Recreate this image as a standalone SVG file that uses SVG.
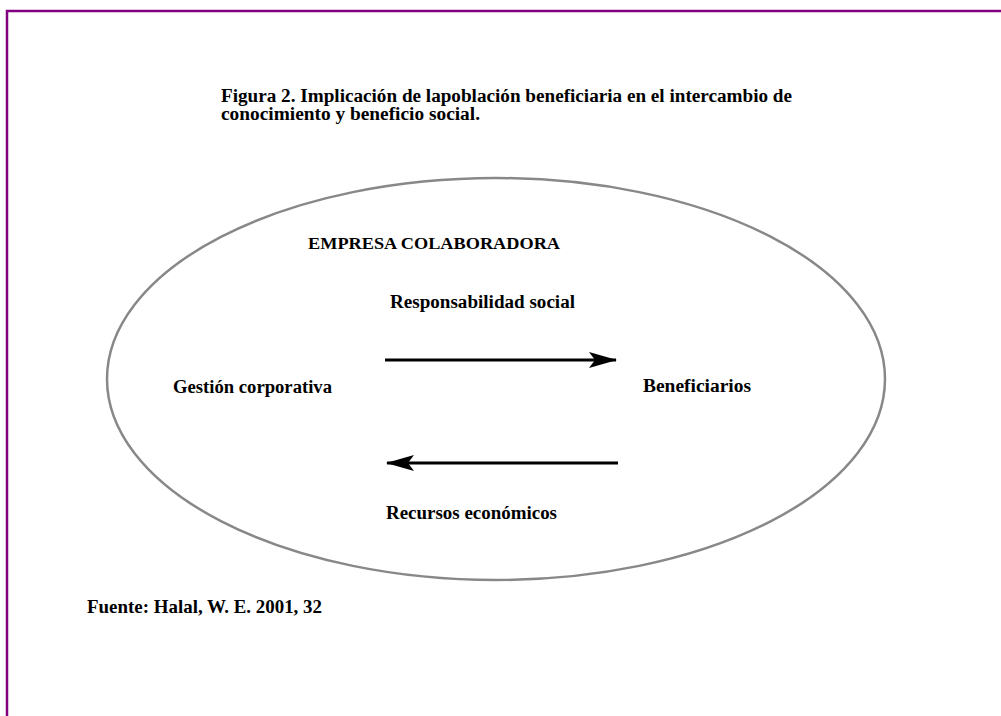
<svg xmlns="http://www.w3.org/2000/svg" width="1001" height="716" viewBox="0 0 1001 716">
<style>
.t{font-family:"Liberation Serif","Times New Roman",serif;font-weight:bold;font-size:18px;fill:#000}
.s{font-size:17px}
.f{font-size:19px}
.arr{stroke:#000;stroke-width:3;fill:none}
</style>
<defs>
<marker id="ah" viewBox="0 0 28 16" refX="27" refY="8" markerWidth="28" markerHeight="16" markerUnits="userSpaceOnUse" orient="auto">
<path d="M0,0 L28,8 L0,16 L6,8 Z" fill="#000"/>
</marker>
</defs>
<rect width="1001" height="716" fill="#fff"/>
<path d="M7,716 V11 H1001" fill="none" stroke="#800080" stroke-width="2.5"/>
<g id="title">
<text class="t" x="221" y="102" textLength="571" lengthAdjust="spacingAndGlyphs">Figura 2. Implicación de lapoblación beneficiaria en el intercambio de</text>
<text class="t" x="221" y="120" textLength="259" lengthAdjust="spacingAndGlyphs">conocimiento y beneficio social.</text>
</g>
<g id="empresa">
<ellipse cx="496" cy="379" rx="389" ry="201" fill="none" stroke="#888" stroke-width="2.5"/>
<text class="t s" x="308" y="249" textLength="252" lengthAdjust="spacingAndGlyphs">EMPRESA COLABORADORA</text>
</g>
<g id="gestion">
<text class="t" x="173" y="393" textLength="159" lengthAdjust="spacingAndGlyphs">Gestión corporativa</text>
</g>
<g id="beneficiarios">
<text class="t" x="643" y="392" textLength="108" lengthAdjust="spacingAndGlyphs">Beneficiarios</text>
</g>
<g id="connectors">
<line class="arr" x1="385" y1="360" x2="616" y2="360" marker-end="url(#ah)"/>
<line class="arr" x1="618" y1="463" x2="387" y2="463" marker-end="url(#ah)"/>
<text class="t" x="390" y="308" textLength="185" lengthAdjust="spacingAndGlyphs">Responsabilidad social</text>
<text class="t" x="386" y="519" textLength="171" lengthAdjust="spacingAndGlyphs">Recursos económicos</text>
</g>
<g id="fuente">
<text class="t f" x="87" y="613" textLength="235" lengthAdjust="spacingAndGlyphs">Fuente: Halal, W. E. 2001, 32</text>
</g>
</svg>
